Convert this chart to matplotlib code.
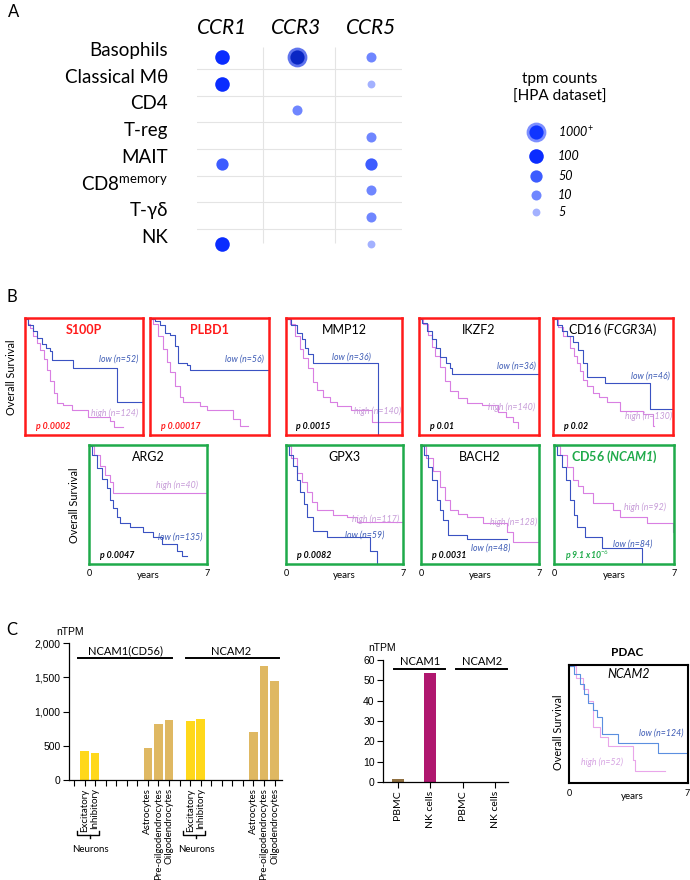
import matplotlib
matplotlib.use("Agg")
from matplotlib import pyplot as plt
from matplotlib.transforms import blended_transform_factory

plt.rcParams['font.family'] = ['Lato', 'DejaVu Sans']
plt.rcParams['mathtext.fontset'] = 'custom'
plt.rcParams['mathtext.rm'] = 'Lato'
plt.rcParams['mathtext.it'] = 'Lato:italic'
plt.rcParams['mathtext.bf'] = 'Lato:bold'
plt.rcParams['mathtext.bfit'] = 'Lato:bold:italic'

# ---- panel A data: tpm level per cell type (0 = no dot)
cells = ['Basophils', 'Classical Mθ', 'CD4', 'T-reg', 'MAIT',
         r'CD8$^{\mathrm{memory}}$', 'T-γδ', 'NK']
receptors = ['CCR1', 'CCR3', 'CCR5']
ccr1_tpm = [100, 100, 0, 0, 50, 0, 0, 100]
ccr3_tpm = [1000, 0, 10, 0, 0, 0, 0, 0]
ccr5_tpm = [10, 5, 0, 10, 50, 10, 10, 5]
legend_levels = [1000, 100, 50, 10, 5]
legend_labels = [r'1000$^{+}$', '100', '50', '10', '5']

# ---- panel B data: Kaplan-Meier curves (years, survival fraction)
s100p_low_t = [0, 0.2, 0.45, 0.7, 1.0, 1.25, 1.5, 1.6, 2.85, 5.46, 7.0]
s100p_low_s = [1.0, 0.95, 0.9, 0.84, 0.78, 0.75, 0.72, 0.64, 0.57, 0.28, 0.28]
s100p_high_t = [0, 0.15, 0.3, 0.5, 0.7, 0.9, 1.1, 1.3, 1.5, 1.7, 1.9, 2.25, 2.8, 3.75, 5.05, 5.25, 5.8]
s100p_high_s = [1.0, 0.96, 0.92, 0.85, 0.79, 0.73, 0.65, 0.56, 0.46, 0.36, 0.27, 0.25, 0.21, 0.15, 0.11, 0.06, 0.06]

plbd1_low_t = [0, 0.3, 0.6, 0.9, 1.2, 1.47, 1.65, 2.2, 2.35, 7.0]
plbd1_low_s = [1.0, 0.98, 0.95, 0.88, 0.86, 0.77, 0.62, 0.60, 0.56, 0.56]
plbd1_high_t = [0, 0.2, 0.45, 0.75, 1.0, 1.2, 1.45, 1.75, 1.95, 2.95, 3.35, 4.9, 5.3, 5.75]
plbd1_high_s = [1.0, 0.96, 0.85, 0.74, 0.63, 0.54, 0.42, 0.32, 0.28, 0.24, 0.21, 0.13, 0.07, 0.07]

mmp12_low_t = [0, 0.3, 0.66, 0.97, 1.15, 1.33, 1.63, 5.55]
mmp12_low_s = [1.0, 0.95, 0.88, 0.83, 0.75, 0.70, 0.62, 0.0]
mmp12_high_t = [0, 0.25, 0.55, 0.85, 1.05, 1.3, 1.6, 1.9, 2.25, 2.65, 3.1, 3.9, 5.2, 7.0]
mmp12_high_s = [1.0, 0.96, 0.85, 0.74, 0.66, 0.57, 0.45, 0.38, 0.32, 0.28, 0.24, 0.21, 0.10, 0.10]

ikzf2_low_t = [0, 0.15, 0.45, 0.76, 1.0, 1.22, 1.55, 1.81, 1.93, 7.0]
ikzf2_low_s = [1.0, 0.97, 0.9, 0.83, 0.75, 0.67, 0.62, 0.57, 0.52, 0.52]
ikzf2_high_t = [0, 0.23, 0.5, 0.75, 0.95, 1.2, 1.5, 1.8, 2.3, 2.8, 3.7, 4.6, 5.1, 5.5, 5.8]
ikzf2_high_s = [1.0, 0.96, 0.86, 0.76, 0.68, 0.58, 0.46, 0.37, 0.31, 0.27, 0.25, 0.19, 0.15, 0.10, 0.05]

cd16_low_t = [0, 0.25, 0.53, 0.82, 1.17, 1.46, 1.75, 1.98, 3.03, 5.66, 7.0]
cd16_low_s = [1.0, 0.95, 0.9, 0.85, 0.8, 0.73, 0.62, 0.5, 0.44, 0.22, 0.22]
cd16_high_t = [0, 0.3, 0.6, 0.99, 1.2, 1.4, 1.6, 1.75, 2.0, 2.33, 2.7, 3.15, 3.9, 5.25, 5.85, 5.9]
cd16_high_s = [1.0, 0.93, 0.85, 0.75, 0.68, 0.62, 0.55, 0.47, 0.42, 0.36, 0.32, 0.28, 0.20, 0.17, 0.07, 0.07]

arg2_low_t = [0, 0.2, 0.47, 0.77, 1.07, 1.25, 1.42, 1.66, 1.84, 2.43, 3.2, 3.8, 4.33, 5.22, 5.52, 5.81]
arg2_low_s = [1.0, 0.92, 0.81, 0.72, 0.64, 0.54, 0.47, 0.39, 0.34, 0.31, 0.26, 0.22, 0.16, 0.10, 0.06, 0.06]
arg2_high_t = [0, 0.3, 0.65, 0.95, 1.25, 1.42, 7.0]
arg2_high_s = [1.0, 0.92, 0.83, 0.75, 0.69, 0.60, 0.60]

gpx3_low_t = [0, 0.2, 0.42, 0.66, 0.84, 1.08, 1.26, 1.62, 2.45, 5.03, 5.44]
gpx3_low_s = [1.0, 0.92, 0.83, 0.71, 0.61, 0.50, 0.39, 0.27, 0.22, 0.10, 0.0]
gpx3_high_t = [0, 0.3, 0.66, 0.96, 1.26, 1.56, 1.85, 2.81, 3.65, 4.25, 7.0]
gpx3_high_s = [1.0, 0.9, 0.77, 0.69, 0.61, 0.52, 0.45, 0.41, 0.39, 0.35, 0.35]

bach2_low_t = [0, 0.2, 0.42, 0.65, 0.95, 1.15, 1.31, 1.6, 2.73, 5.1]
bach2_low_s = [1.0, 0.92, 0.82, 0.71, 0.54, 0.45, 0.37, 0.24, 0.20, 0.20]
bach2_high_t = [0, 0.3, 0.71, 1.13, 1.42, 1.72, 2.2, 2.73, 3.68, 5.1, 5.46, 7.0]
bach2_high_s = [1.0, 0.9, 0.79, 0.65, 0.54, 0.45, 0.42, 0.39, 0.34, 0.26, 0.18, 0.18]

cd56_low_t = [0, 0.2, 0.47, 0.7, 0.93, 1.17, 1.34, 1.81, 2.8, 5.13]
cd56_low_s = [1.0, 0.92, 0.82, 0.71, 0.54, 0.41, 0.31, 0.22, 0.13, 0.0]
cd56_high_t = [0, 0.35, 0.76, 1.11, 1.4, 1.69, 2.28, 3.44, 3.85, 5.43, 6.94, 7.0]
cd56_high_s = [1.0, 0.92, 0.82, 0.71, 0.66, 0.60, 0.51, 0.45, 0.39, 0.34, 0.26, 0.26]

ncam2_low_t = [0, 0.3, 0.65, 0.9, 1.12, 1.4, 1.65, 1.94, 2.88, 5.24, 7.0]
ncam2_low_s = [1.0, 0.93, 0.85, 0.76, 0.68, 0.62, 0.56, 0.41, 0.34, 0.25, 0.25]
ncam2_high_t = [0, 0.4, 0.8, 1.12, 1.41, 1.82, 2.29, 3.76, 3.88, 5.65]
ncam2_high_s = [1.0, 0.9, 0.8, 0.70, 0.47, 0.39, 0.31, 0.19, 0.09, 0.09]

km_titles = ['S100P', 'PLBD1', 'MMP12', 'IKZF2', r'CD16 ($\mathit{FCGR3A}$)',
             'ARG2', 'GPX3', 'BACH2', r'CD56 ($\mathbfit{NCAM1}$)']
km_pvals = ['p 0.0002', 'p 0.00017', 'p 0.0015', 'p 0.01', 'p 0.02',
            'p 0.0047', 'p 0.0082', 'p 0.0031', r'p 9.1 x10$^{-6}$']
km_low_n = ['low (n=52)', 'low (n=56)', 'low (n=36)', 'low (n=36)', 'low (n=46)',
            'low (n=135)', 'low (n=59)', 'low (n=48)', 'low (n=84)']
km_high_n = ['high (n=124)', '', 'high (n=140)', 'high (n=140)', 'high (n=130)',
             'high (n=40)', 'high (n=117)', 'high (n=128)', 'high (n=92)']

# ---- panel C data
brain_labels = ['', 'Excitatory', 'Inhibitory', '', '', '', '',
                'Astrocytes', 'Pre-oilgodendrocytes', 'Oilgodendrocytes']
ncam1_brain = [0, 423, 400, 0, 0, 0, 0, 472, 817, 871]
ncam2_brain = [0, 861, 890, 0, 0, 0, 0, 696, 1664, 1445]
blood_labels = ['PBMC', 'NK cells']
ncam1_blood = [1.3, 53.5]
ncam2_blood = [0.2, 0.2]

W, H = 690, 880
fig = plt.figure(figsize=(W / 100, H / 100), dpi=100)


def px_axes(x0, y0, x1, y1):
    return fig.add_axes([x0 / W, 1 - y1 / H, (x1 - x0) / W, (y1 - y0) / H])


def ftext(x, y, s, **kw):
    fig.text(x / W, 1 - y / H, s, **kw)


# ================= A =================
ftext(8, 12, 'A', fontsize=12, va='center')
lvl_size = {1000: 150, 100: 110, 50: 78, 10: 52, 5: 32}
lvl_color = {1000: '#0b2fe0', 100: '#0a2cff', 50: '#3d5cff', 10: '#6f86ff', 5: '#a3b1ff'}
grid_c = '#e4e4e4'

axA = px_axes(197, 14, 402, 262)
axA.set_xlim(-0.336, 2.416)
axA.set_ylim(7.68, -1.61)
axA.axis('off')
for r in range(len(cells) - 1):
    axA.axhline(r + 0.45, color=grid_c, lw=0.8, zorder=0)
for c in (0.55, 1.52):
    axA.vlines(c, -0.37, 6.95, color=grid_c, lw=0.8, zorder=0)
for j, vals in enumerate([ccr1_tpm, ccr3_tpm, ccr5_tpm]):
    axA.text(j, -1.09, receptors[j], style='italic', fontsize=15,
             ha='center', va='center')
    for i, v in enumerate(vals):
        if v == 0:
            continue
        if v >= 1000:
            axA.scatter(j, i, s=lvl_size[v], c='#0a27c4', edgecolors='#5f74ee',
                        linewidths=2, zorder=3)
        else:
            axA.scatter(j, i, s=lvl_size[v], c=lvl_color[v], lw=0, zorder=3)
for i, name in enumerate(cells):
    axA.text(-0.725, i - 0.25, name, fontsize=13.5, ha='right', va='center',
             clip_on=False)

ftext(560, 79, 'tpm counts', fontsize=11, ha='center', va='center')
ftext(560, 97, '[HPA dataset]', fontsize=11, ha='center', va='center')
axL = px_axes(490, 115, 640, 225)
axL.set_xlim(490, 640)
axL.set_ylim(225, 115)
axL.axis('off')
leg_y = [132, 156, 176, 195, 212]
for lv, lab, yy in zip(legend_levels, legend_labels, leg_y):
    if lv >= 1000:
        axL.scatter(536, yy, s=lvl_size[lv], c='#0f34ff', edgecolors='#7d8fff',
                    linewidths=2)
    else:
        axL.scatter(536, yy, s=lvl_size[lv], c=lvl_color[lv], lw=0)
    axL.text(558, yy, lab, style='italic', fontsize=9, va='center')

# ================= B =================
ftext(6, 297, 'B', fontsize=12, va='center')
RED, GREEN = '#ff1a1a', '#1faa4a'
LOW_C, HIGH_C = '#3a52c2', '#d97fe2'
LOWTXT, HIGHTXT = '#3d5bb5', '#c79cd8'

km_low = [(s100p_low_t, s100p_low_s), (plbd1_low_t, plbd1_low_s),
          (mmp12_low_t, mmp12_low_s), (ikzf2_low_t, ikzf2_low_s),
          (cd16_low_t, cd16_low_s), (arg2_low_t, arg2_low_s),
          (gpx3_low_t, gpx3_low_s), (bach2_low_t, bach2_low_s),
          (cd56_low_t, cd56_low_s)]
km_high = [(s100p_high_t, s100p_high_s), (plbd1_high_t, plbd1_high_s),
           (mmp12_high_t, mmp12_high_s), (ikzf2_high_t, ikzf2_high_s),
           (cd16_high_t, cd16_high_s), (arg2_high_t, arg2_high_s),
           (gpx3_high_t, gpx3_high_s), (bach2_high_t, bach2_high_s),
           (cd56_high_t, cd56_high_s)]
# layout: box in pixels, frame color, low/high label anchors (axes fraction)
km_boxes = [(25, 318, 143, 435), (150, 318, 269, 435), (286, 318, 402, 435),
            (419, 318, 539, 435), (553, 318, 673, 435),
            (89, 445, 207, 564), (286, 445, 403, 564), (421, 445, 539, 564),
            (554, 445, 674, 564)]
km_frame = [RED] * 5 + [GREEN] * 4
low_pos = [(0.96, 0.65), (0.96, 0.65), (0.73, 0.67), (0.97, 0.59), (0.97, 0.50),
           (0.96, 0.23), (0.84, 0.24), (0.76, 0.13), (0.82, 0.17)]
high_pos = [(0.96, 0.19), (0.96, 0.2), (0.99, 0.2), (0.97, 0.24), (0.99, 0.16),
            (0.92, 0.66), (0.97, 0.38), (0.98, 0.35), (0.93, 0.48)]
title_style = [dict(color=RED, fontweight='bold')] * 2 + [dict(color='black')] * 6 + \
              [dict(color=GREEN, fontweight='bold')]
p_color = [RED, RED, 'black', 'black', 'black', 'black', 'black', 'black', GREEN]


def km_axes(box, frame, lw=1.8):
    ax = px_axes(*box)
    ax.set_xlim(0, 7)
    ax.set_ylim(-0.01, 1.01)
    ax.set_xticks([])
    ax.set_yticks([])
    for sp in ax.spines.values():
        sp.set_color(frame)
        sp.set_linewidth(lw)
    return ax


for k in range(9):
    ax = km_axes(km_boxes[k], km_frame[k])
    ax.step(km_high[k][0], km_high[k][1], where='post', color=HIGH_C, lw=0.8)
    ax.step(km_low[k][0], km_low[k][1], where='post', color=LOW_C, lw=0.8)
    ax.text(0.5, 0.9, km_titles[k], transform=ax.transAxes, fontsize=9,
            ha='center', va='center', **title_style[k])
    ax.text(*low_pos[k], km_low_n[k], transform=ax.transAxes, fontsize=6.3,
            style='italic', color=LOWTXT, ha='right', va='center')
    ax.text(*high_pos[k], km_high_n[k], transform=ax.transAxes, fontsize=6.3,
            style='italic', color=HIGHTXT, ha='right', va='center')
    ax.text(0.09, 0.07, km_pvals[k], transform=ax.transAxes, fontsize=6.3,
            style='italic', fontweight='bold', color=p_color[k], va='center')
    if k >= 5:
        x0, _, x1, _ = km_boxes[k]
        ftext(x0, 574, '0', fontsize=6.5, ha='center', va='center')
        ftext(x1, 574, '7', fontsize=6.5, ha='center', va='center')
        ftext((x0 + x1) / 2, 576, 'years', fontsize=7, ha='center', va='center')

ftext(12, 377, 'Overall Survival', fontsize=7.8, rotation=90, ha='center', va='center')
ftext(75, 505, 'Overall Survival', fontsize=7.8, rotation=90, ha='center', va='center')

# ================= C =================
ftext(6, 630, 'C', fontsize=12, va='center')
YEL, TAN = '#ffd81a', '#dfb862'
ARIAL = 'Liberation Sans'


def bar_style(ax):
    for s in ('top', 'right'):
        ax.spines[s].set_visible(False)
    for s in ('left', 'bottom'):
        ax.spines[s].set_linewidth(0.9)
    ax.tick_params(direction='out', length=4, width=0.8, pad=2)
    for lab in ax.get_yticklabels():
        lab.set_fontfamily(ARIAL)
        lab.set_fontsize(7.5)


# brain bar chart
axC = px_axes(69, 643, 282, 780)
brain_all = ncam1_brain + ncam2_brain
labels_all = brain_labels + brain_labels
xs = range(len(brain_all))
bar_cols = [YEL if lab in ('Excitatory', 'Inhibitory') else TAN for lab in labels_all]
axC.bar(xs, brain_all, width=0.83, color=bar_cols)
axC.set_xlim(-0.47, 19.7)
axC.set_ylim(0, 2000)
axC.set_yticks([0, 500, 1000, 1500, 2000])
axC.set_yticklabels(['{:,}'.format(v) for v in [0, 500, 1000, 1500, 2000]])
axC.set_xticks(list(xs))
axC.set_xticklabels(labels_all, rotation=90, fontsize=7)
bar_style(axC)
ftext(70, 632, 'nTPM', fontsize=7.5, ha='center', va='center', family=ARIAL)
trC = blended_transform_factory(axC.transData, axC.transAxes)
for a, b, name, xc in [(0.4, 9.3, 'NCAM1(CD56)', 4.85), (10.6, 19.4, 'NCAM2', 14.85)]:
    axC.plot([a, b], [0.89, 0.89], color='black', lw=1.4, transform=trC, clip_on=False)
    axC.text(xc, 0.94, name, fontsize=8, ha='center', va='center', transform=trC)
for off in (0, 10):
    a, b = off + 0.3, off + 2.4
    axC.plot([a, a, b, b], [-0.37, -0.40, -0.40, -0.37], color='black', lw=1.0,
             transform=trC, clip_on=False)
    axC.plot([off + 1.55, off + 1.55], [-0.40, -0.42], color='black', lw=1.0,
             transform=trC, clip_on=False)
    axC.text(off + 1.6, -0.51, 'Neurons', fontsize=7, ha='center', va='center',
             transform=trC)

# blood bar chart
axD = px_axes(383, 660, 508, 782)
blood_all = ncam1_blood + ncam2_blood
blood_lab_all = blood_labels + blood_labels
axD.bar(range(4), blood_all, width=0.36,
        color=['#8f6f40', '#b0176f', '#8f6f40', '#b0176f'])
axD.set_xlim(-0.46, 3.4)
axD.set_ylim(0, 60)
axD.set_yticks(range(0, 61, 10))
axD.set_xticks(range(4))
axD.set_xticklabels(blood_lab_all, rotation=90, fontsize=7.5)
bar_style(axD)
ftext(382, 648, 'nTPM', fontsize=7.5, ha='center', va='center', family=ARIAL)
trD = blended_transform_factory(axD.transData, axD.transAxes)
for a, b, name, xc in [(-0.12, 1.45, 'NCAM1', 0.68), (1.8, 3.37, 'NCAM2', 2.6)]:
    axD.plot([a, b], [0.927, 0.927], color='black', lw=1.4, transform=trD, clip_on=False)
    axD.text(xc, 0.985, name, fontsize=8, ha='center', va='center', transform=trD)

# PDAC survival
axP = km_axes((569, 665, 688, 783), 'black', lw=1.5)
axP.step(ncam2_high_t, ncam2_high_s, where='post', color='#e9a6ea', lw=0.8)
axP.step(ncam2_low_t, ncam2_low_s, where='post', color='#5b8fe0', lw=0.8)
axP.text(0.5, 0.92, 'NCAM2', style='italic', fontsize=9, ha='center', va='center',
         transform=axP.transAxes)
axP.text(0.96, 0.42, 'low (n=124)', style='italic', fontsize=6.3, color='#3d5bb5',
         ha='right', va='center', transform=axP.transAxes)
axP.text(0.45, 0.18, 'high (n=52)', style='italic', fontsize=6.3, color='#d6a3e2',
         ha='right', va='center', transform=axP.transAxes)
ftext(627, 652, 'PDAC', fontsize=8.5, fontweight='bold', ha='center', va='center')
ftext(559, 732, 'Overall Survival', fontsize=7.8, rotation=90, ha='center', va='center')
ftext(569, 793, '0', fontsize=6.5, ha='center', va='center')
ftext(687, 793, '7', fontsize=6.5, ha='center', va='center')
ftext(632, 796, 'years', fontsize=7, ha='center', va='center')

fig.savefig('out.png', dpi=100)
